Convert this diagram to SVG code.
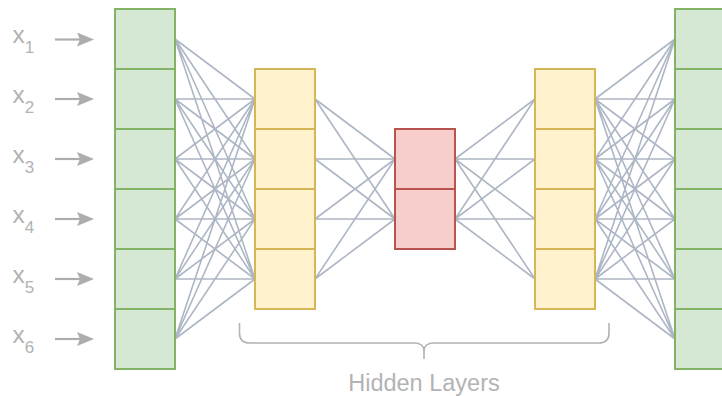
<svg xmlns="http://www.w3.org/2000/svg" width="722" height="396" viewBox="0 0 722 396">
  <style>
    .in   { fill: #d5e8d4; stroke: #82b366; stroke-width: 2; }
    .hid  { fill: #fff2cc; stroke: #d6b656; stroke-width: 2; }
    .code { fill: #f8cecc; stroke: #b85450; stroke-width: 2; }
    .edge { stroke: #adb6c4; stroke-width: 1.6; fill: none; }
    .feed { stroke: #adadad; stroke-width: 2.2; fill: none; }
    .lbl  { font-family: "Liberation Sans", Arial, sans-serif; fill: #b3b3b3; }
    .brace { stroke: #b3b3b3; stroke-width: 1.6; fill: none; }
  </style>
  <defs>
    <marker id="head" viewBox="0 0 17 14" refX="3" refY="7" markerWidth="17" markerHeight="14" markerUnits="userSpaceOnUse" orient="auto">
      <path d="M0,0 L17,7 L0,14 L3,7 Z" fill="#adadad"/>
    </marker>
  </defs>

  <rect width="722" height="396" fill="#ffffff"/>

  <!-- connectors between layers -->
  <g id="connectors" class="edge">
    <!-- input (6) to hidden 1 (4) -->
    <path d="M175,39 L255,99 M175,39 L255,159 M175,39 L255,219 M175,39 L255,279
             M175,99 L255,99 M175,99 L255,159 M175,99 L255,219 M175,99 L255,279
             M175,159 L255,99 M175,159 L255,159 M175,159 L255,219 M175,159 L255,279
             M175,219 L255,99 M175,219 L255,159 M175,219 L255,219 M175,219 L255,279
             M175,279 L255,99 M175,279 L255,159 M175,279 L255,219 M175,279 L255,279
             M175,339 L255,99 M175,339 L255,159 M175,339 L255,219 M175,339 L255,279"/>
    <!-- hidden 1 to code layer -->
    <path d="M315,99 L395,159 M315,99 L395,219
             M315,159 L395,159 M315,159 L395,219
             M315,219 L395,159 M315,219 L395,219
             M315,279 L395,159 M315,279 L395,219"/>
    <!-- code layer to hidden 3 -->
    <path d="M455,159 L535,99 M455,159 L535,159 M455,159 L535,219 M455,159 L535,279
             M455,219 L535,99 M455,219 L535,159 M455,219 L535,219 M455,219 L535,279"/>
    <!-- hidden 3 to output (6) -->
    <path d="M595,99 L675,39 M595,99 L675,99 M595,99 L675,159 M595,99 L675,219 M595,99 L675,279 M595,99 L675,339
             M595,159 L675,39 M595,159 L675,99 M595,159 L675,159 M595,159 L675,219 M595,159 L675,279 M595,159 L675,339
             M595,219 L675,39 M595,219 L675,99 M595,219 L675,159 M595,219 L675,219 M595,219 L675,279 M595,219 L675,339
             M595,279 L675,39 M595,279 L675,99 M595,279 L675,159 M595,279 L675,219 M595,279 L675,279 M595,279 L675,339"/>
    <!-- input feeds -->
    <g class="feed" marker-end="url(#head)">
      <line x1="55" y1="39.5" x2="80" y2="39.5"/>
      <line x1="55" y1="99" x2="80" y2="99"/>
      <line x1="55" y1="159" x2="80" y2="159"/>
      <line x1="55" y1="219" x2="80" y2="219"/>
      <line x1="55" y1="279" x2="80" y2="279"/>
      <line x1="55" y1="339" x2="80" y2="339"/>
    </g>
  </g>

  <!-- input layer -->
  <g id="input-layer" class="in">
    <rect x="115" y="9" width="60" height="60"/>
    <rect x="115" y="69" width="60" height="60"/>
    <rect x="115" y="129" width="60" height="60"/>
    <rect x="115" y="189" width="60" height="60"/>
    <rect x="115" y="249" width="60" height="60"/>
    <rect x="115" y="309" width="60" height="60"/>
  </g>

  <!-- hidden layer 1 -->
  <g id="hidden-1" class="hid">
    <rect x="255" y="69" width="60" height="60"/>
    <rect x="255" y="129" width="60" height="60"/>
    <rect x="255" y="189" width="60" height="60"/>
    <rect x="255" y="249" width="60" height="60"/>
  </g>

  <!-- bottleneck layer -->
  <g id="code-layer" class="code">
    <rect x="395" y="129" width="60" height="60"/>
    <rect x="395" y="189" width="60" height="60"/>
  </g>

  <!-- hidden layer 3 -->
  <g id="hidden-3" class="hid">
    <rect x="535" y="69" width="60" height="60"/>
    <rect x="535" y="129" width="60" height="60"/>
    <rect x="535" y="189" width="60" height="60"/>
    <rect x="535" y="249" width="60" height="60"/>
  </g>

  <!-- output layer -->
  <g id="output-layer" class="in">
    <rect x="675" y="9" width="60" height="60"/>
    <rect x="675" y="69" width="60" height="60"/>
    <rect x="675" y="129" width="60" height="60"/>
    <rect x="675" y="189" width="60" height="60"/>
    <rect x="675" y="249" width="60" height="60"/>
    <rect x="675" y="309" width="60" height="60"/>
  </g>

  <!-- input labels -->
  <g id="input-labels" class="lbl" font-size="24.5">
    <text x="12.5" y="43">x<tspan font-size="17" dy="9.5">1</tspan></text>
    <text x="12.5" y="103">x<tspan font-size="17" dy="9.5">2</tspan></text>
    <text x="12.5" y="163">x<tspan font-size="17" dy="9.5">3</tspan></text>
    <text x="12.5" y="223">x<tspan font-size="17" dy="9.5">4</tspan></text>
    <text x="12.5" y="283">x<tspan font-size="17" dy="9.5">5</tspan></text>
    <text x="12.5" y="343">x<tspan font-size="17" dy="9.5">6</tspan></text>
  </g>

  <!-- brace under hidden layers -->
  <g id="hidden-brace">
    <path class="brace" d="M239.5,323 V333 Q239.5,343 249.5,343 H414 Q424,343 424,351 V359 M424,351 Q424,343 434,343 H599 Q609,343 609,333 V323"/>
    <text class="lbl" x="424" y="391" font-size="23.5" text-anchor="middle">Hidden Layers</text>
  </g>
</svg>
